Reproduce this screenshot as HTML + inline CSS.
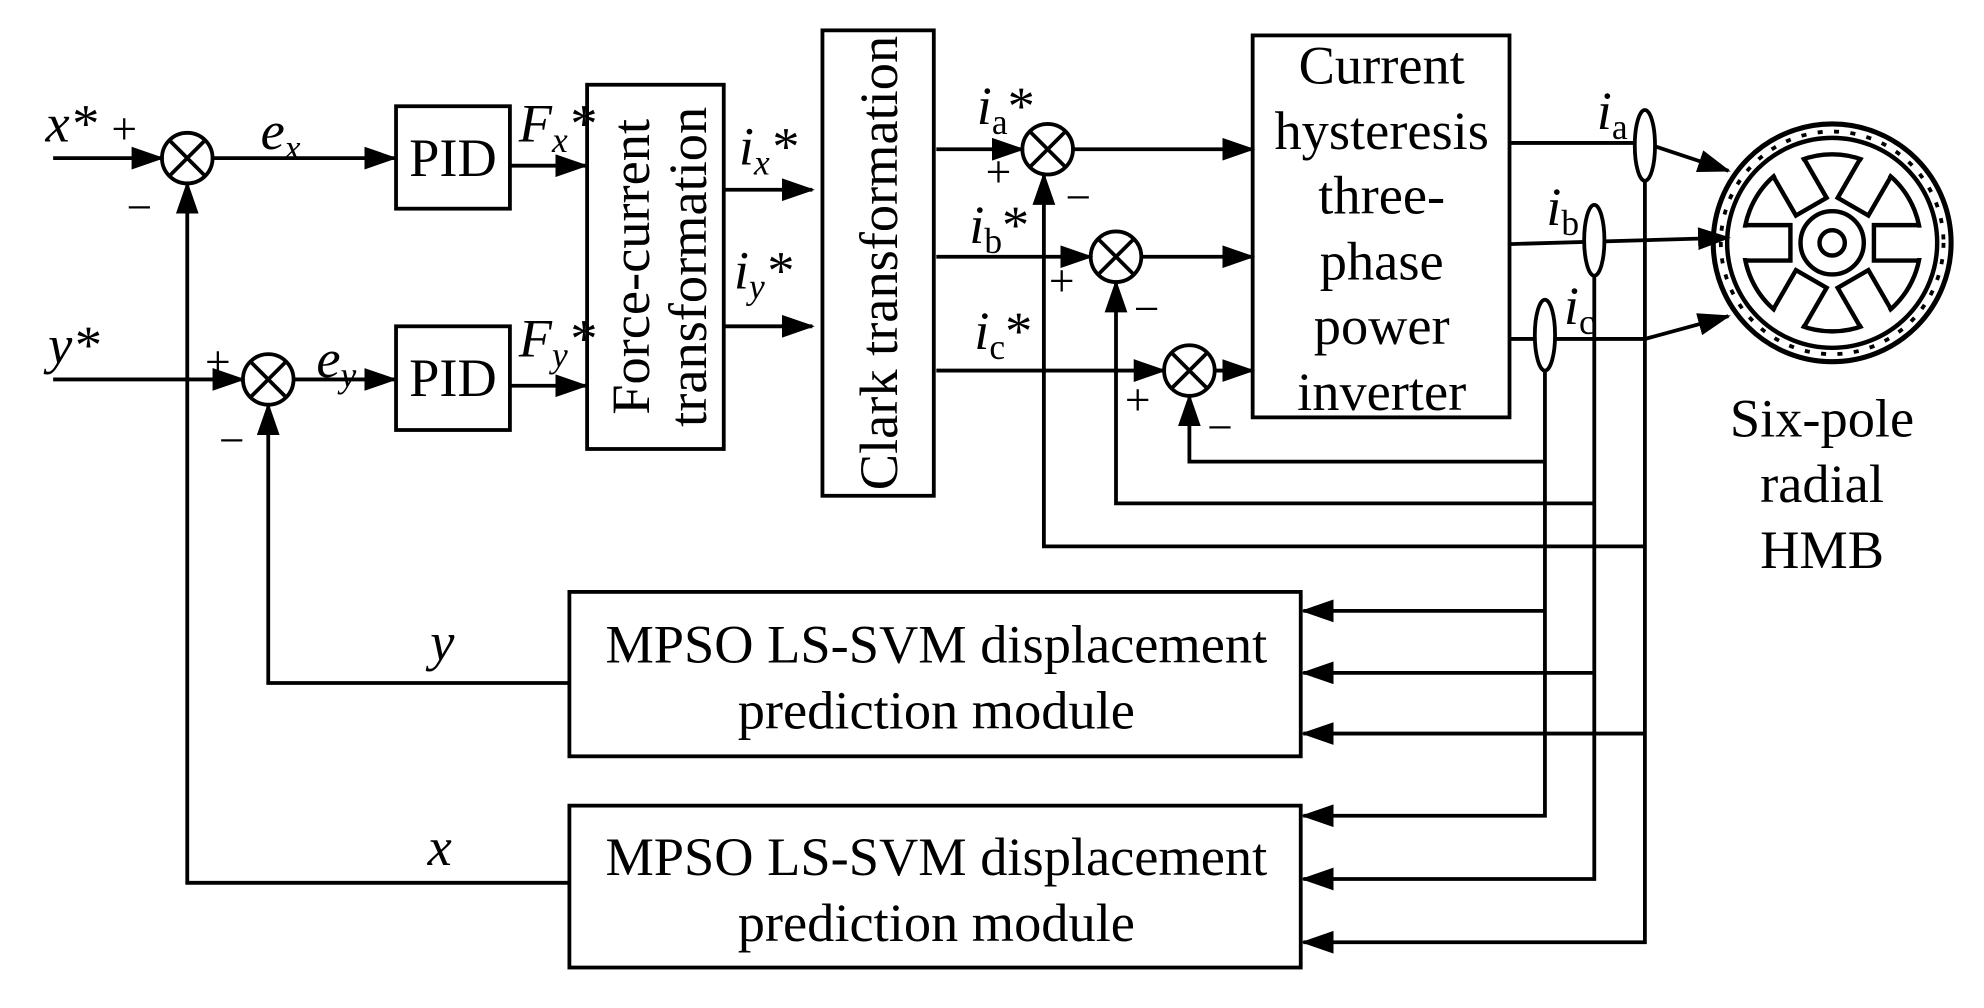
<!DOCTYPE html>
<html><head><meta charset="utf-8"><style>
html,body{margin:0;padding:0;background:#fff;}
svg{display:block;}
text{font-family:"Liberation Serif",serif;fill:#000;}
</style></head><body>
<svg width="1984" height="1008" viewBox="0 0 1568 797" preserveAspectRatio="none" xmlns="http://www.w3.org/2000/svg">
<defs>
<marker id="a" markerUnits="userSpaceOnUse" markerWidth="26" markerHeight="18" refX="24" refY="9" orient="auto">
<path d="M0,0 L26,9 L0,18 Z" fill="#000"/></marker>
</defs>
<g stroke="#000" stroke-width="3" fill="none">
<line x1="42" y1="125" x2="128" y2="125" marker-end="url(#a)"/>
<circle cx="148" cy="125" r="20"/>
<line x1="134" y1="111" x2="162" y2="139"/><line x1="162" y1="111" x2="134" y2="139"/>
<line x1="168" y1="125" x2="312" y2="125" marker-end="url(#a)"/>
<rect x="313" y="84" width="90" height="81"/>
<line x1="403" y1="131" x2="463" y2="131" marker-end="url(#a)"/>
<line x1="42" y1="300" x2="192" y2="300" marker-end="url(#a)"/>
<circle cx="212" cy="300" r="20"/>
<line x1="198" y1="286" x2="226" y2="314"/><line x1="226" y1="286" x2="198" y2="314"/>
<line x1="232" y1="300" x2="312" y2="300" marker-end="url(#a)"/>
<rect x="313" y="258" width="90" height="82"/>
<line x1="403" y1="305" x2="463" y2="305" marker-end="url(#a)"/>
<rect x="464" y="67" width="108" height="288"/>
<line x1="572" y1="150" x2="642" y2="150" marker-end="url(#a)"/>
<line x1="572" y1="258" x2="642" y2="258" marker-end="url(#a)"/>
<rect x="650" y="24" width="88" height="368"/>
<line x1="740" y1="118" x2="808" y2="118" marker-end="url(#a)"/>
<circle cx="828" cy="118" r="20"/>
<line x1="814" y1="104" x2="842" y2="132"/><line x1="842" y1="104" x2="814" y2="132"/>
<line x1="848" y1="118" x2="990" y2="118" marker-end="url(#a)"/>
<line x1="740" y1="203" x2="862" y2="203" marker-end="url(#a)"/>
<circle cx="882" cy="203" r="20"/>
<line x1="868" y1="189" x2="896" y2="217"/><line x1="896" y1="189" x2="868" y2="217"/>
<line x1="902" y1="203" x2="990" y2="203" marker-end="url(#a)"/>
<line x1="740" y1="293" x2="920" y2="293" marker-end="url(#a)"/>
<circle cx="940" cy="293" r="20"/>
<line x1="926" y1="279" x2="954" y2="307"/><line x1="954" y1="279" x2="926" y2="307"/>
<line x1="960" y1="293" x2="990" y2="293" marker-end="url(#a)"/>
<rect x="990" y="28" width="203" height="302"/>
<polyline points="1193,113 1300,113 1366,135" marker-end="url(#a)"/>
<polyline points="1193,193 1366,188" marker-end="url(#a)"/>
<polyline points="1193,268 1300,268 1366,250" marker-end="url(#a)"/>
<ellipse cx="1300" cy="115" rx="8" ry="28" fill="#fff"/>
<ellipse cx="1260" cy="190" rx="8" ry="28" fill="#fff"/>
<ellipse cx="1221" cy="265" rx="8" ry="28" fill="#fff"/>
<polyline points="1300,143 1300,745 1030,745" marker-end="url(#a)"/>
<polyline points="1260,218 1260,695 1030,695" marker-end="url(#a)"/>
<polyline points="1221,293 1221,645 1030,645" marker-end="url(#a)"/>
<line x1="1221" y1="483" x2="1030" y2="483" marker-end="url(#a)"/>
<line x1="1260" y1="532" x2="1030" y2="532" marker-end="url(#a)"/>
<line x1="1300" y1="580" x2="1030" y2="580" marker-end="url(#a)"/>
<polyline points="1300,432 825,432 825,138" marker-end="url(#a)"/>
<polyline points="1260,398 882,398 882,223" marker-end="url(#a)"/>
<polyline points="1221,365 940,365 940,313" marker-end="url(#a)"/>
<rect x="450" y="468" width="578" height="130"/>
<rect x="450" y="637" width="578" height="128"/>
<polyline points="450,540 212,540 212,320" marker-end="url(#a)"/>
<polyline points="450,698 148,698 148,145" marker-end="url(#a)"/>
<circle cx="1448" cy="192" r="94" stroke-width="4"/>
<circle cx="1448" cy="192" r="83" stroke-width="3.5"/>
<circle cx="1448" cy="192" r="88" stroke-width="3" stroke-dasharray="4 9"/>
<circle cx="1448" cy="192" r="70" stroke-width="3.5"/>
<g transform="translate(1448,192)">
<g id="p"><rect x="35" y="-12" width="40" height="24" fill="#fff" stroke="none"/><path d="M69,-14 L33,-14 L33,14 L69,14" stroke-width="3.5"/></g>
<use href="#p" transform="rotate(60)"/>
<use href="#p" transform="rotate(120)"/>
<use href="#p" transform="rotate(180)"/>
<use href="#p" transform="rotate(240)"/>
<use href="#p" transform="rotate(300)"/>
</g>
<circle cx="1448" cy="192" r="25" stroke-width="3.5"/>
<circle cx="1448" cy="192" r="10" stroke-width="3.5"/>
</g>
<g font-size="43">
<text x="36" y="112" font-style="italic">x*</text>
<text x="88" y="114" font-size="36">+</text>
<text x="100" y="176" font-size="36">−</text>
<text x="206" y="118" font-style="italic">e<tspan font-size="28" dy="8">x</tspan></text>
<text x="358" y="139" text-anchor="middle">PID</text>
<text x="410" y="112" font-style="italic">F<tspan font-size="28" dy="8">x</tspan><tspan dy="-8">*</tspan></text>
<text x="38" y="287" font-style="italic">y*</text>
<text x="162" y="298" font-size="36">+</text>
<text x="173" y="360" font-size="36">−</text>
<text x="250" y="298" font-style="italic">e<tspan font-size="28" dy="8">y</tspan></text>
<text x="358" y="313" text-anchor="middle">PID</text>
<text x="410" y="282" font-style="italic">F<tspan font-size="28" dy="8">y</tspan><tspan dy="-8">*</tspan></text>
<text transform="translate(513,211) rotate(-90)" text-anchor="middle">Force-current</text>
<text transform="translate(558,211) rotate(-90)" text-anchor="middle">transformation</text>
<text transform="translate(709,208) rotate(-90)" text-anchor="middle">Clark transformation</text>
<text x="584" y="130" font-style="italic">i<tspan font-size="28" dy="8">x</tspan><tspan dy="-8">*</tspan></text>
<text x="580" y="228" font-style="italic">i<tspan font-size="28" dy="8">y</tspan><tspan dy="-8">*</tspan></text>
<text x="772" y="98" font-style="italic">i<tspan font-size="28" dy="8" font-style="normal">a</tspan><tspan dy="-8" font-style="normal">*</tspan></text>
<text x="779" y="148" font-size="36">+</text>
<text x="842" y="168" font-size="36">−</text>
<text x="766" y="192" font-style="italic">i<tspan font-size="28" dy="8" font-style="normal">b</tspan><tspan dy="-8" font-style="normal">*</tspan></text>
<text x="829" y="234" font-size="36">+</text>
<text x="896" y="256" font-size="36">−</text>
<text x="770" y="276" font-style="italic">i<tspan font-size="28" dy="8" font-style="normal">c</tspan><tspan dy="-8" font-style="normal">*</tspan></text>
<text x="889" y="328" font-size="36">+</text>
<text x="954" y="350" font-size="36">−</text>
<text x="1092" y="66" text-anchor="middle">Current</text>
<text x="1092" y="118" text-anchor="middle">hysteresis</text>
<text x="1092" y="169" text-anchor="middle">three-</text>
<text x="1092" y="221" text-anchor="middle">phase</text>
<text x="1092" y="272" text-anchor="middle">power</text>
<text x="1092" y="324" text-anchor="middle">inverter</text>
<text x="1262" y="102" font-style="italic">i<tspan font-size="28" dy="8" font-style="normal">a</tspan></text>
<text x="1222" y="178" font-style="italic">i<tspan font-size="28" dy="8" font-style="normal">b</tspan></text>
<text x="1236" y="256" font-style="italic">i<tspan font-size="28" dy="8" font-style="normal">c</tspan></text>
<text x="1440" y="345" text-anchor="middle">Six-pole</text>
<text x="1440" y="397" text-anchor="middle">radial</text>
<text x="1440" y="449" text-anchor="middle">HMB</text>
<text x="740" y="524" text-anchor="middle">MPSO LS-SVM displacement</text>
<text x="740" y="576" text-anchor="middle">prediction module</text>
<text x="740" y="692" text-anchor="middle">MPSO LS-SVM displacement</text>
<text x="740" y="744" text-anchor="middle">prediction module</text>
<text x="340" y="522" font-style="italic">y</text>
<text x="338" y="684" font-style="italic">x</text>
</g>
</svg>
</body></html>
